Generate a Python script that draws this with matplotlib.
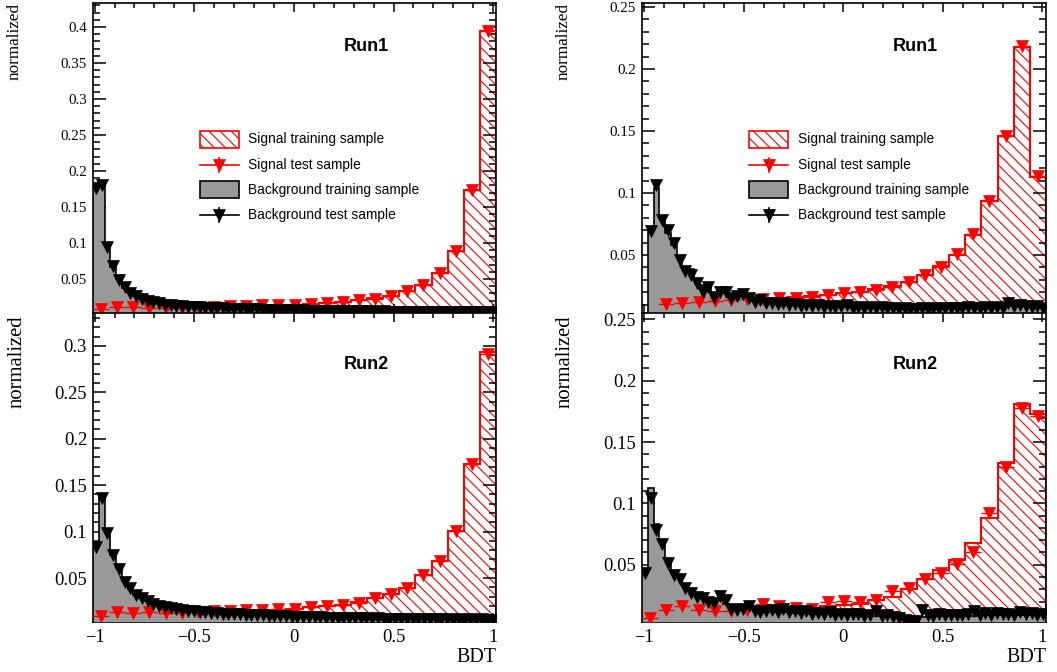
import numpy as np
import matplotlib
matplotlib.use('Agg')
import matplotlib.pyplot as plt
from matplotlib.patches import Rectangle
from matplotlib.lines import Line2D
from matplotlib.ticker import MultipleLocator, FuncFormatter

plt.rcParams['hatch.linewidth'] = 0.8

SERIF = 'Liberation Serif'
SANS = 'Liberation Sans'

# ---------------- data (normalized BDT distributions) ----------------
# signal: 25 bins, background: 70 bins over the BDT range
run1_left_sig_train = [0.008, 0.010, 0.010, 0.010, 0.010, 0.011, 0.011, 0.012, 0.012, 0.013,
                       0.013, 0.014, 0.0145, 0.0155, 0.017, 0.0185, 0.0205, 0.023, 0.0265, 0.033,
                       0.042, 0.058, 0.089, 0.174, 0.395]
run1_left_sig_test = [0.008, 0.0105, 0.0105, 0.0095, 0.0098, 0.0102, 0.0108, 0.0115, 0.0122, 0.0128,
                      0.0135, 0.0138, 0.0146, 0.0152, 0.0168, 0.0183, 0.0204, 0.0228, 0.0262, 0.0328,
                      0.0418, 0.0584, 0.0892, 0.1738, 0.3945]
run1_left_bkg_train = [0.178, 0.180, 0.096, 0.067, 0.050, 0.038, 0.031, 0.026, 0.0222, 0.0196,
                       0.0176, 0.0160, 0.0148, 0.0138, 0.0130, 0.0123, 0.0117, 0.0112, 0.0107, 0.0103,
                       0.0099, 0.0095, 0.0092, 0.0089, 0.0086, 0.0083, 0.0081, 0.0079, 0.0077, 0.0075,
                       0.0073, 0.0071, 0.0069, 0.0068, 0.0066, 0.0064, 0.0063, 0.0062, 0.0060, 0.0059,
                       0.0058, 0.0057, 0.0056, 0.0055, 0.0054, 0.0053, 0.0052, 0.0051, 0.0050, 0.0049,
                       0.0048, 0.0048, 0.0047, 0.0046, 0.0046, 0.0045, 0.0045, 0.0044, 0.0044, 0.0043,
                       0.0043, 0.0042, 0.0042, 0.0042, 0.0041, 0.0041, 0.0041, 0.0041, 0.0042, 0.0045]
run1_left_bkg_test = [0.176, 0.181, 0.095, 0.068, 0.049, 0.0385, 0.0305, 0.0262, 0.0219, 0.0198,
                      0.0174, 0.0162, 0.0146, 0.0139, 0.0129, 0.0124, 0.0116, 0.0113, 0.0106, 0.0102,
                      0.0100, 0.0094, 0.0093, 0.0088, 0.0087, 0.0082, 0.0082, 0.0078, 0.0078, 0.0074,
                      0.0074, 0.0070, 0.0070, 0.0067, 0.0067, 0.0063, 0.0064, 0.0061, 0.0061, 0.0058,
                      0.0059, 0.0056, 0.0057, 0.0054, 0.0055, 0.0052, 0.0053, 0.0050, 0.0051, 0.0048,
                      0.0049, 0.0047, 0.0048, 0.0045, 0.0047, 0.0044, 0.0046, 0.0043, 0.0045, 0.0042,
                      0.0044, 0.0041, 0.0043, 0.0041, 0.0042, 0.0040, 0.0042, 0.0040, 0.0043, 0.0046]

run2_left_sig_train = [0.009, 0.0125, 0.0125, 0.013, 0.0125, 0.013, 0.0135, 0.014, 0.0142, 0.015,
                       0.0152, 0.016, 0.017, 0.0184, 0.0195, 0.0213, 0.024, 0.0285, 0.033, 0.039,
                       0.053, 0.068, 0.101, 0.173, 0.293]
run2_left_sig_test = [0.0088, 0.013, 0.0123, 0.014, 0.0123, 0.0128, 0.0136, 0.0143, 0.0141, 0.0152,
                      0.0152, 0.0162, 0.0168, 0.0186, 0.0194, 0.0215, 0.0232, 0.0284, 0.0328, 0.0392,
                      0.0528, 0.0682, 0.1008, 0.1732, 0.2915]
run2_left_bkg_train = [0.086, 0.140, 0.100, 0.075, 0.061, 0.047, 0.038, 0.032, 0.029, 0.025,
                       0.0225, 0.0205, 0.0187, 0.0172, 0.0163, 0.0155, 0.0148, 0.0142, 0.0136, 0.0131,
                       0.0126, 0.0122, 0.0118, 0.0114, 0.0111, 0.0108, 0.0105, 0.0102, 0.0099, 0.0097,
                       0.0094, 0.0092, 0.0090, 0.0088, 0.0086, 0.0084, 0.0082, 0.0080, 0.0078, 0.0077,
                       0.0075, 0.0074, 0.0072, 0.0071, 0.0070, 0.0068, 0.0067, 0.0066, 0.0065, 0.0064,
                       0.0063, 0.0062, 0.0061, 0.0060, 0.0059, 0.0058, 0.0058, 0.0057, 0.0056, 0.0056,
                       0.0055, 0.0055, 0.0054, 0.0054, 0.0053, 0.0053, 0.0053, 0.0053, 0.0054, 0.0056]
run2_left_bkg_test = [0.083, 0.136, 0.099, 0.075, 0.060, 0.046, 0.039, 0.032, 0.0285, 0.0249,
                      0.0224, 0.0204, 0.0186, 0.0173, 0.0166, 0.0157, 0.0147, 0.0143, 0.0135, 0.0132,
                      0.0125, 0.0123, 0.0117, 0.0115, 0.0110, 0.0109, 0.0104, 0.0103, 0.0098, 0.0098,
                      0.0093, 0.0093, 0.0089, 0.0089, 0.0085, 0.0085, 0.0081, 0.0081, 0.0077, 0.0078,
                      0.0074, 0.0075, 0.0071, 0.0072, 0.0069, 0.0069, 0.0066, 0.0067, 0.0064, 0.0065,
                      0.0062, 0.0063, 0.0060, 0.0061, 0.0058, 0.0059, 0.0057, 0.0058, 0.0055, 0.0057,
                      0.0054, 0.0056, 0.0053, 0.0055, 0.0052, 0.0054, 0.0052, 0.0054, 0.0053, 0.0050]

run1_right_sig_train = [0.0, 0.0102, 0.0118, 0.0122, 0.0130, 0.0139, 0.0141, 0.0148, 0.0153, 0.0158,
                        0.0166, 0.0175, 0.0190, 0.0205, 0.0222, 0.0247, 0.0283, 0.0336, 0.0408, 0.0502,
                        0.0662, 0.0933, 0.146, 0.218, 0.1125]
run1_right_sig_test = [0.0, 0.0105, 0.0116, 0.0124, 0.0132, 0.0137, 0.0143, 0.0145, 0.0151, 0.0156,
                       0.0164, 0.0177, 0.0191, 0.0204, 0.0220, 0.0243, 0.0280, 0.0340, 0.0406, 0.0505,
                       0.0670, 0.0935, 0.146, 0.2185, 0.114]
run1_right_bkg_train = [0.0, 0.072, 0.104, 0.080, 0.068, 0.058, 0.049, 0.039, 0.039, 0.031,
                        0.026, 0.023, 0.019, 0.021, 0.019, 0.017, 0.016, 0.017, 0.015, 0.013,
                        0.013, 0.012, 0.012, 0.0108, 0.0105, 0.0102, 0.0100, 0.0096, 0.0094, 0.0091,
                        0.0089, 0.0086, 0.0084, 0.0082, 0.0081, 0.0079, 0.0078, 0.0076, 0.0075, 0.0073,
                        0.0072, 0.0071, 0.0070, 0.0069, 0.0068, 0.0067, 0.0067, 0.0066, 0.0066, 0.0067,
                        0.0067, 0.0068, 0.0069, 0.0070, 0.0071, 0.0072, 0.0073, 0.0074, 0.0075, 0.0076,
                        0.0078, 0.0080, 0.0085, 0.0092, 0.0090, 0.0088, 0.0086, 0.0083, 0.0080, 0.0077]
run1_right_bkg_test = [0.0, 0.0695, 0.1065, 0.078, 0.0698, 0.060, 0.0463, 0.0372, 0.0340, 0.0277,
                       0.0200, 0.0240, 0.0160, 0.0205, 0.0204, 0.0156, 0.0170, 0.0185, 0.0151, 0.0124,
                       0.0137, 0.0110, 0.0115, 0.0105, 0.0112, 0.0098, 0.0104, 0.0091, 0.0100, 0.0087,
                       0.0094, 0.0082, 0.0090, 0.0079, 0.0085, 0.0095, 0.0076, 0.0083, 0.0072, 0.0081,
                       0.0070, 0.0078, 0.0069, 0.0074, 0.0066, 0.0072, 0.0068, 0.0063, 0.0070, 0.0065,
                       0.0072, 0.0067, 0.0074, 0.0069, 0.0076, 0.0071, 0.0079, 0.0073, 0.0070, 0.0078,
                       0.0074, 0.0082, 0.0076, 0.0110, 0.0085, 0.0098, 0.0091, 0.0079, 0.0086, 0.0072]

run2_right_sig_train = [0.005, 0.010, 0.011, 0.011, 0.011, 0.012, 0.012, 0.013, 0.014, 0.014,
                        0.015, 0.016, 0.017, 0.018, 0.021, 0.024, 0.030, 0.038, 0.046, 0.054,
                        0.068, 0.088, 0.133, 0.181, 0.173]
run2_right_sig_test = [0.0066, 0.0134, 0.0161, 0.0134, 0.0120, 0.0120, 0.0134, 0.0176, 0.0161, 0.0148,
                       0.0142, 0.0194, 0.0202, 0.0194, 0.0210, 0.0284, 0.0310, 0.0384, 0.0432, 0.0506,
                       0.0601, 0.0921, 0.130, 0.178, 0.171]
run2_right_bkg_train = [0.046, 0.1125, 0.083, 0.070, 0.055, 0.045, 0.039, 0.033, 0.029, 0.025,
                        0.024, 0.021, 0.019, 0.021, 0.018, 0.016, 0.015, 0.014, 0.014, 0.013,
                        0.013, 0.0125, 0.012, 0.0118, 0.0115, 0.0112, 0.0110, 0.0107, 0.0105, 0.0102,
                        0.0100, 0.0098, 0.0096, 0.0094, 0.0092, 0.0090, 0.0088, 0.0086, 0.0084, 0.0082,
                        0.0080, 0.0079, 0.0078, 0.0077, 0.0076, 0.0075, 0.0075, 0.0075, 0.0076, 0.0077,
                        0.0078, 0.0079, 0.0080, 0.0081, 0.0082, 0.0083, 0.0084, 0.0085, 0.0086, 0.0087,
                        0.0088, 0.0089, 0.0090, 0.0091, 0.0092, 0.0092, 0.0093, 0.0093, 0.0094, 0.0094]
run2_right_bkg_test = [0.0432, 0.1040, 0.0785, 0.0670, 0.0514, 0.0419, 0.0385, 0.0310, 0.0267, 0.0240,
                       0.0232, 0.0200, 0.0188, 0.0243, 0.0210, 0.0142, 0.0134, 0.0138, 0.0166, 0.0122,
                       0.0112, 0.0125, 0.0130, 0.0118, 0.0135, 0.0112, 0.0120, 0.0108, 0.0122, 0.0100,
                       0.0110, 0.0095, 0.0118, 0.0088, 0.0102, 0.0092, 0.0095, 0.0102, 0.0080, 0.0090,
                       0.0120, 0.0085, 0.0093, 0.0075, 0.0066, 0.0052, 0.0045, 0.0039, 0.0134, 0.0090,
                       0.0085, 0.0100, 0.0090, 0.0088, 0.0094, 0.0086, 0.0098, 0.0120, 0.0092, 0.0104,
                       0.0088, 0.0110, 0.0096, 0.0102, 0.0090, 0.0112, 0.0098, 0.0106, 0.0094, 0.0100]

run_labels = ['Run1', 'Run2']
legend_labels = ['Signal training sample', 'Signal test sample',
                 'Background training sample', 'Background test sample']

# ---------------- layout ----------------
W, H = 1057, 672
fig = plt.figure(figsize=(W / 100, H / 100), dpi=100)

def px_rect(x0, y_top, x1, y_bot):
    return [x0 / W, 1 - y_bot / H, (x1 - x0) / W, (y_bot - y_top) / H]

panels = [
    dict(rect=px_rect(93, 3, 496, 313), xlim=(-1.008, 1.014), ylim=(0.0028, 0.4333),
         sig_tr=run1_left_sig_train, sig_te=run1_left_sig_test,
         bkg_tr=run1_left_bkg_train, bkg_te=run1_left_bkg_test,
         run=run_labels[0], bottom=False, legend=True),
    dict(rect=px_rect(93, 313, 496, 622), xlim=(-1.008, 1.014), ylim=(0.0027, 0.3353),
         sig_tr=run2_left_sig_train, sig_te=run2_left_sig_test,
         bkg_tr=run2_left_bkg_train, bkg_te=run2_left_bkg_test,
         run=run_labels[1], bottom=True, legend=False),
    dict(rect=px_rect(642, 3, 1046, 313), xlim=(-1.012, 1.018), ylim=(0.0032, 0.2532),
         sig_tr=run1_right_sig_train, sig_te=run1_right_sig_test,
         bkg_tr=run1_right_bkg_train, bkg_te=run1_right_bkg_test,
         run=run_labels[0], bottom=False, legend=True),
    dict(rect=px_rect(642, 313, 1046, 622), xlim=(-1.012, 1.018), ylim=(0.0033, 0.2552),
         sig_tr=run2_right_sig_train, sig_te=run2_right_sig_test,
         bkg_tr=run2_right_bkg_train, bkg_te=run2_right_bkg_test,
         run=run_labels[1], bottom=True, legend=False),
]

def fmt(v, pos):
    s = '%g' % (round(v, 6) + 0.0)
    return s.replace('-', '\u2212')

HATCH = '\\\\\\'
GRAY = '#999999'
MS = 8.5

for p in panels:
    ax = fig.add_axes(p['rect'])
    x0, x1 = p['xlim']
    sig_tr = np.array(p['sig_tr']); sig_te = np.array(p['sig_te'])
    bkg_tr = np.array(p['bkg_tr']); bkg_te = np.array(p['bkg_te'])
    sedges = np.linspace(x0, x1, len(sig_tr) + 1)
    bedges = np.linspace(x0, x1, len(bkg_tr) + 1)
    sc = 0.5 * (sedges[1:] + sedges[:-1]); bc = 0.5 * (bedges[1:] + bedges[:-1])
    sw = 0.5 * (sedges[1] - sedges[0]); bw = 0.5 * (bedges[1] - bedges[0])

    # signal training: hatched
    ax.stairs(sig_tr, sedges, fill=True, facecolor='none', edgecolor='red',
              hatch=HATCH, linewidth=0, zorder=1)
    ax.stairs(sig_tr, sedges, fill=False, color='red', linewidth=1.5, zorder=2)
    # background training: gray filled
    ax.stairs(bkg_tr, bedges, fill=True, facecolor=GRAY, edgecolor='black',
              linewidth=1.2, zorder=3)
    # test samples
    m = sig_te > 0
    ax.errorbar(sc[m], sig_te[m], xerr=sw, fmt='v', color='red', ms=MS, mew=0.5,
                elinewidth=1.0, capsize=0, zorder=4)
    m = bkg_te > 0
    ax.errorbar(bc[m], bkg_te[m], xerr=bw, fmt='v', color='black', ms=MS, mew=0.5,
                elinewidth=1.0, capsize=0, zorder=5)

    ax.set_xlim(x0, x1)
    ax.set_ylim(*p['ylim'])
    ax.xaxis.set_major_locator(MultipleLocator(0.5))
    ax.xaxis.set_minor_locator(MultipleLocator(0.1))
    ax.yaxis.set_major_locator(MultipleLocator(0.05))
    ax.yaxis.set_minor_locator(MultipleLocator(0.01))
    ax.xaxis.set_major_formatter(FuncFormatter(fmt))
    ax.yaxis.set_major_formatter(FuncFormatter(fmt))
    lab = 13.3 if p['bottom'] else 10.8
    ax.tick_params(axis='both', which='both', direction='in', top=True, right=True, width=1.1)
    ax.tick_params(axis='y', which='major', length=9.5, pad=4.3, labelsize=lab)
    ax.tick_params(axis='y', which='minor', length=4.8)
    ax.tick_params(axis='x', which='major', length=6.7, pad=5, labelsize=lab)
    ax.tick_params(axis='x', which='minor', length=3.4)
    if not p['bottom']:
        ax.tick_params(axis='x', labelbottom=False)
    for lbl in ax.get_xticklabels() + ax.get_yticklabels():
        lbl.set_family(SERIF)
    for s in ax.spines.values():
        s.set_linewidth(1.2)

    ax.text(0.677, 0.861 if not p['bottom'] else 0.832, p['run'], transform=ax.transAxes,
            ha='center', va='center', fontsize=13, fontweight='bold', family=SANS, zorder=10)

    if p['legend']:
        fs = 9.9
        px0, px1 = 0.2655, 0.362
        ph = 0.055
        rows = [0.561, 0.477, 0.397, 0.316]
        tx = 0.385
        ax.add_patch(Rectangle((px0, rows[0] - ph / 2), px1 - px0, ph, transform=ax.transAxes,
                               facecolor='white', edgecolor='red', hatch=HATCH, lw=1.2,
                               zorder=10, clip_on=False))
        ax.add_patch(Rectangle((px0, rows[2] - ph / 2), px1 - px0, ph, transform=ax.transAxes,
                               facecolor=GRAY, edgecolor='black', lw=1.2, zorder=10,
                               clip_on=False))
        for r, c in [(rows[1], 'red'), (rows[3], 'black')]:
            xm = 0.5 * (px0 + px1)
            ax.add_line(Line2D([px0, px1], [r, r], color=c, lw=1.2, transform=ax.transAxes,
                               zorder=10))
            ax.add_line(Line2D([xm, xm], [r - 0.022, r + 0.022], color=c, lw=1.2,
                               transform=ax.transAxes, zorder=10))
            ax.add_line(Line2D([xm], [r], color=c, marker='v', ms=MS, mew=0.5,
                               transform=ax.transAxes, zorder=11))
        for r, t in zip(rows, legend_labels):
            ax.text(tx, r, t, transform=ax.transAxes, ha='left', va='center',
                    fontsize=fs, family=SANS, zorder=10)

# axis titles
fig.text(15 / W, 1 - 3 / H, 'normalized', rotation=90, ha='center', va='top',
         fontsize=12.3, family=SERIF)
fig.text(17 / W, 1 - 315 / H, 'normalized', rotation=90, ha='center', va='top',
         fontsize=14.9, family=SERIF)
fig.text(564 / W, 1 - 3 / H, 'normalized', rotation=90, ha='center', va='top',
         fontsize=12.3, family=SERIF)
fig.text(565 / W, 1 - 315 / H, 'normalized', rotation=90, ha='center', va='top',
         fontsize=14.9, family=SERIF)
fig.text(496 / W, 1 - 658 / H, 'BDT', ha='right', va='center', fontsize=14.4, family=SERIF)
fig.text(1046 / W, 1 - 658 / H, 'BDT', ha='right', va='center', fontsize=14.4, family=SERIF)

fig.savefig('out.png', dpi=100)
